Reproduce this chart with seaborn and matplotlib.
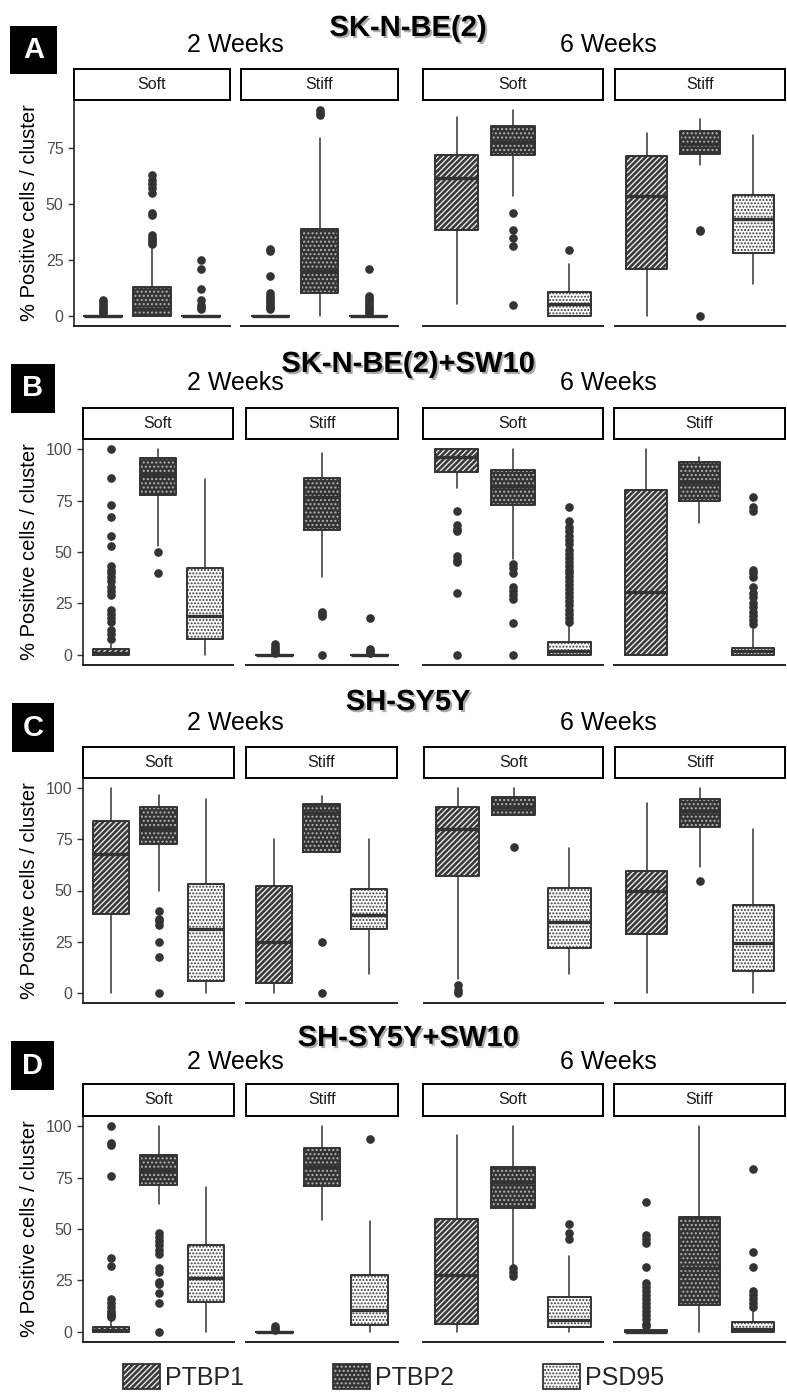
import matplotlib
matplotlib.use("Agg")
import matplotlib.pyplot as plt
import seaborn as sns
import matplotlib.patheffects as pe
from matplotlib.patches import Patch, Rectangle
from matplotlib.legend_handler import HandlerTuple

sns.set_theme(style="white")
plt.rcParams['font.family'] = ['Liberation Sans', 'DejaVu Sans']
plt.rcParams['hatch.linewidth'] = 0.95

# ---------------- data ----------------
GENES = ["PTBP1", "PTBP2", "PSD95"]
FACETS = ["Soft", "Stiff", "Soft", "Stiff"]
WEEKS = ["2 Weeks", "6 Weeks"]
PANEL_LETTERS = ["A", "B", "C", "D"]
PANEL_TITLES = ["SK-N-BE(2)", "SK-N-BE(2)+SW10", "SH-SY5Y", "SH-SY5Y+SW10"]
Y_TICKS_A = [0, 25, 50, 75]
Y_TICKS = [0, 25, 50, 75, 100]
Y_LABEL = "% Positive cells / cluster"

# facet order: 2W Soft, 2W Stiff, 6W Soft, 6W Stiff ; genes: PTBP1, PTBP2, PSD95
A_Q1 = [[0, 0, 0], [0, 10, 0], [38.6, 72, 0], [21, 72.3, 28]]
A_MED = [[0, 3, 0], [0, 20, 0], [61.5, 78, 5.4], [53.5, 77, 43.5]]
A_Q3 = [[0, 13, 0], [0, 39, 0], [72, 85, 10.8], [71.5, 82.6, 54]]
A_LO = [[0, 0, 0], [0, 0, 0], [5.4, 53.5, 0], [0, 67.5, 14]]
A_HI = [[0, 30, 0], [0, 79.5, 0], [89, 92, 23], [82, 88, 81]]
A_FLIERS = [
    [[1, 2, 3, 4, 5, 6, 7], [32, 33, 34, 35, 36, 45, 46, 55, 57, 59, 61, 63], [3, 4, 5, 7, 12, 21, 25]],
    [[3, 4, 5, 6, 7, 8, 9, 10, 18, 29, 30], [90, 91, 92], [1, 2, 3, 4, 5, 6, 7, 8, 9, 21]],
    [[], [5, 31, 35, 38.6, 46], [29.6]],
    [[], [0, 38, 38.6], []],
]

B_Q1 = [[0, 77.8, 7.8], [0, 60.7, 0], [89, 73, 0], [0, 75, 0]]
B_MED = [[1, 88, 19], [0, 77, 0], [96, 82, 2], [30.5, 84, 2]]
B_Q3 = [[2.6, 95.6, 42.4], [0, 86, 0], [100, 90, 6.3], [80, 94, 3.4]]
B_LO = [[0, 53, 0], [0, 38, 0], [81, 46.4, 0], [0, 64, 0]]
B_HI = [[5, 100, 85.7], [0, 98, 0], [100, 100, 14.8], [100, 96, 12.3]]
B_FLIERS = [
    [[7.5, 10, 12, 16, 18, 20, 22, 29, 31, 33, 36, 38, 40, 41, 43, 53, 58, 67, 73, 86, 100], [40, 50], []],
    [[1, 2, 3, 4, 5], [0, 19, 20, 21], [1, 2, 3, 18]],
    [[0, 30, 45, 46, 48, 60, 61, 63, 70], [0, 15.6, 27, 29, 31, 33, 40, 42, 44],
     [16, 18, 20, 22, 24, 26, 28, 30, 32, 34, 36, 38, 40, 41, 43, 45, 47, 49, 51, 54, 56, 58, 60, 62, 65, 72]],
    [[], [], [15, 17, 19, 21, 23, 25, 28, 30, 33, 38, 40, 41, 70, 72, 77]],
]

C_Q1 = [[38.4, 72.7, 6], [5, 68.8, 31.4], [57, 87, 22], [28.6, 81, 10.7]]
C_MED = [[68, 80, 31], [25, 88, 38], [80, 91, 34.8], [50, 88.8, 24.5]]
C_Q3 = [[84, 90.6, 53], [52, 92.5, 50.6], [91, 95.8, 51.4], [59.5, 94.8, 43]]
C_LO = [[0, 50, 0], [0, 68.8, 9], [6.7, 87, 9], [0, 61.6, 0]]
C_HI = [[100, 96.7, 94.5], [75, 96, 75], [100, 100, 71], [93, 100, 80]]
C_FLIERS = [
    [[], [0, 17.5, 25, 33, 35, 36, 40], []],
    [[], [0, 25], []],
    [[0, 1.5, 3.7], [71.4], []],
    [[], [54.5], []],
]

D_Q1 = [[0, 71.4, 14.3], [0, 71, 3.2], [3.7, 60, 2.4], [0, 13, 0]]
D_MED = [[1, 78.7, 26.3], [0, 80, 10.5], [27.6, 73, 5.5], [0, 31, 1.5]]
D_Q3 = [[2.4, 86, 42], [0, 89.6, 27.6], [55, 80, 17], [1, 56, 4.5]]
D_LO = [[0, 62, 0], [0, 54.4, 0], [0, 32.5, 0], [0, 0, 0]]
D_HI = [[5.7, 100, 70.6], [0, 100, 54], [95.8, 100, 37], [2, 100, 10.5]]
D_FLIERS = [
    [[7, 8, 9, 10, 12, 14, 16, 32, 36, 76, 91, 92, 100], [0, 14, 19, 23, 24, 29, 31, 38, 40, 42, 44, 46, 48], []],
    [[1, 2, 3], [], [94]],
    [[], [27, 29, 31], [45, 48, 52.4]],
    [[3, 4, 6, 8, 10, 12, 14, 16, 18, 20, 22, 23.5, 31.3, 43, 45, 47, 63], [], [12, 14, 16, 18, 20, 31.6, 39, 79]],
]

PANEL_DATA = [
    (A_Q1, A_MED, A_Q3, A_LO, A_HI, A_FLIERS),
    (B_Q1, B_MED, B_Q3, B_LO, B_HI, B_FLIERS),
    (C_Q1, C_MED, C_Q3, C_LO, C_HI, C_FLIERS),
    (D_Q1, D_MED, D_Q3, D_LO, D_HI, D_FLIERS),
]

# ---------------- style / layout ----------------
W, H = 787, 1392
DARK = "#333333"
GENE_FACE = ["#3a3a3a", "#343434", "#ffffff"]
GENE_HATCH_COLOR = ["#ececec", "#b4b4b4", "#3a3a3a"]
GENE_HATCH = ["//////", "....", "....."]

# (strip top, panel top, panel bottom, facet x ranges, ylim, yticks)
LAYOUT = [
    (69, 100, 326, [(74, 230), (241, 398), (423, 603), (615, 785)], (-4.6, 96.6), Y_TICKS_A),
    (408, 439, 665, [(83, 233), (246, 398), (423, 603), (614, 785)], (-5, 105), Y_TICKS),
    (747, 778, 1003, [(83, 234), (246, 397), (424, 603), (615, 785)], (-5, 105), Y_TICKS),
    (1084, 1116, 1342, [(83, 234), (246, 398), (423, 603), (614, 785)], (-5, 105), Y_TICKS),
]
TITLE_Y = [28, 364, 702, 1038]
WEEK_Y = [45, 383, 723, 1062]
WEEK_X = [235, 608]
LETTER_BOX = [(10, 26, 57, 74), (11, 364, 55, 413), (12, 703, 54, 752), (11, 1041, 54, 1090)]

fig = plt.figure(figsize=(W / 100, H / 100), dpi=100)


def px_axes(x0, y0, x1, y1):
    return fig.add_axes([x0 / W, 1 - y1 / H, (x1 - x0) / W, (y1 - y0) / H])


def draw_facet(ax, q1s, meds, q3s, los, his, fls):
    for i in range(3):
        st = [dict(med=meds[i], q1=q1s[i], q3=q3s[i], whislo=los[i], whishi=his[i], fliers=fls[i])]
        ax.bxp(st, positions=[i + 1], widths=0.77, patch_artist=True, showfliers=False, showcaps=False,
               boxprops=dict(facecolor=GENE_FACE[i], edgecolor=GENE_HATCH_COLOR[i], hatch=GENE_HATCH[i],
                             linewidth=0),
               whiskerprops=dict(linewidth=0), medianprops=dict(linewidth=0), manage_ticks=False, zorder=2)
        ax.bxp(st, positions=[i + 1], widths=0.77, patch_artist=False, showcaps=False,
               boxprops=dict(color=DARK, linewidth=1.4),
               whiskerprops=dict(color=DARK, linewidth=1.1),
               medianprops=dict(color=DARK, linewidth=2.4, solid_capstyle='butt'),
               flierprops=dict(marker='o', markerfacecolor=DARK, markeredgecolor=DARK, markersize=5.2,
                               linestyle='none'),
               manage_ticks=False, zorder=3)


for p in range(4):
    strip_top, ptop, pbot, xs, ylim, yticks = LAYOUT[p]
    q1, med, q3, lo, hi, fl = PANEL_DATA[p]
    for f in range(4):
        x0, x1 = xs[f]
        ax = px_axes(x0, ptop, x1, pbot)
        ax.set_facecolor('none')
        draw_facet(ax, q1[f], med[f], q3[f], lo[f], hi[f], fl[f])
        ax.set_xlim(0.4, 3.6)
        ax.set_ylim(*ylim)
        ax.set_xticks([])
        ax.grid(False)
        for s in ['top', 'right']:
            ax.spines[s].set_visible(False)
        ax.spines['bottom'].set_color('#222222')
        ax.spines['bottom'].set_linewidth(1.4)
        if f == 0:
            ax.spines['left'].set_color('#222222')
            ax.spines['left'].set_linewidth(1.2)
            ax.set_yticks(yticks)
            ax.set_yticklabels([str(t) for t in yticks])
            ax.tick_params(axis='y', left=True, length=4.5, width=1, color=DARK, labelsize=11.5,
                           labelcolor='#4d4d4d', pad=3)
        else:
            ax.spines['left'].set_visible(False)
            ax.set_yticks([])
        # strip
        sax = px_axes(x0, strip_top, x1, ptop)
        sax.set_xticks([])
        sax.set_yticks([])
        sax.set_facecolor('white')
        for s in sax.spines.values():
            s.set_visible(True)
            s.set_color('black')
            s.set_linewidth(1.4)
        sax.text(0.5, 0.5, FACETS[f], ha='center', va='center', fontsize=11.5, color='#1a1a1a',
                 transform=sax.transAxes)

    # y label
    fig.text(30 / W, 1 - ((ptop + pbot) / 2) / H, Y_LABEL, rotation=90, ha='center', va='center',
             fontsize=14.5, color='black')
    # week headers
    for k in range(2):
        fig.text(WEEK_X[k] / W, 1 - WEEK_Y[p] / H, WEEKS[k], ha='center', va='center', fontsize=18,
                 color='black')
    # title
    fig.text(408 / W, 1 - TITLE_Y[p] / H, PANEL_TITLES[p], ha='center', va='center', fontsize=21,
             fontweight='bold', color='black',
             path_effects=[pe.withSimplePatchShadow(offset=(1.5, -1.5), shadow_rgbFace=(0.45, 0.45, 0.45),
                                                    alpha=0.6)])
    # letter box
    lx0, ly0, lx1, ly1 = LETTER_BOX[p]
    fig.patches.append(Rectangle((lx0 / W, 1 - ly1 / H), (lx1 - lx0) / W, (ly1 - ly0) / H,
                                 transform=fig.transFigure, facecolor='black', edgecolor='none', zorder=5))
    fig.text((lx0 + lx1) / 2 / W, 1 - ((ly0 + ly1) / 2) / H, PANEL_LETTERS[p], ha='center', va='center',
             fontsize=21, fontweight='bold', color='white', zorder=6)

# legend
handles = []
for i in range(3):
    fill = Patch(facecolor=GENE_FACE[i], edgecolor=GENE_HATCH_COLOR[i], hatch=GENE_HATCH[i], linewidth=0)
    outline = Patch(facecolor='none', edgecolor=DARK, linewidth=1.3)
    handles.append((fill, outline))
fig.legend(handles, GENES, handler_map={tuple: HandlerTuple(ndivide=1, pad=0)},
           loc='center left', bbox_to_anchor=(123 / W, 1 - 1377 / H), ncol=3, frameon=False,
           fontsize=18, handlelength=1.48, handleheight=1.16, handletextpad=0.2, columnspacing=3.56,
           borderpad=0, borderaxespad=0)

fig.savefig("out.png", dpi=100)
